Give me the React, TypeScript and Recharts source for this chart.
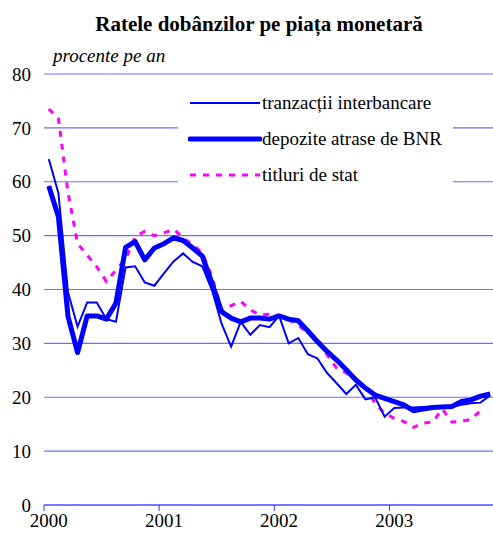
import React from "react";
import { LineChart, Line, XAxis, YAxis, CartesianGrid, Legend } from "recharts";

// monthly, Jan 2000 - Nov 2003
const years = ["2000", "2001", "2002", "2003"];
const yTicks = [0, 10, 20, 30, 40, 50, 60, 70, 80];

const interbancare = [
  64.2, 57.9, 39.5, 33.1, 37.6, 37.6, 34.5, 34.0, 44.1, 44.3, 41.3, 40.7,
  43.0, 45.2, 46.7, 45.1, 44.3, 39.9, 33.7, 29.4, 34.0, 31.6, 33.4, 33.0,
  35.1, 30.0, 31.0, 28.0, 27.2, 24.5, 22.6, 20.6, 22.3, 19.6, 20.0, 16.4,
  18.0, 18.1, 18.1, 18.2, 18.3, 18.3, 18.2, 18.6, 18.9, 19.0, 20.4,
];
const depoziteBNR = [
  59.2, 53.5, 35.0, 28.3, 35.1, 35.1, 34.5, 37.5, 47.8, 48.9, 45.5, 47.7,
  48.5, 49.6, 49.1, 47.7, 46.2, 41.2, 35.9, 34.7, 34.0, 34.7, 34.7, 34.5,
  35.1, 34.5, 34.2, 32.3, 30.3, 28.5, 26.9, 25.1, 23.2, 21.7, 20.4, 19.8,
  19.2, 18.6, 17.5, 17.8, 18.1, 18.2, 18.3, 19.2, 19.5, 20.2, 20.6,
];
const titluriStat = [
  73.5, 71.8, 58.0, 48.5, 46.4, 44.2, 41.5, 43.6, 45.6, 49.8, 50.8, 50.0,
  50.5, 51.2, 49.6, 48.3, 46.8, 42.4, 36.2, 37.0, 37.8, 36.2, 35.3, 35.4,
  35.2, 34.4, 33.4, 31.9, 31.0, 27.9, 25.4, 24.5, 23.5, 21.7, 18.9, 17.0,
  16.1, 15.5, 14.4, 15.2, 15.4, 17.8, 15.4, 15.5, 15.9, 17.5, null,
];

const data = interbancare.map((v, i) => ({
  m: i + 0.5,
  tranz: v,
  depo: depoziteBNR[i],
  titluri: titluriStat[i],
}));

const serif = "'Liberation Serif', 'Times New Roman', serif";

function YearTick(props: any) {
  const { x, y, payload } = props;
  const label = years[Math.round(payload.value / 12)];
  return (
    <text
      x={x + 4.8}
      y={y + 14}
      textAnchor="middle"
      fontFamily={serif}
      fontSize={19}
      fill="#000"
    >
      {label}
    </text>
  );
}

function LegendBox() {
  const items = [
    { name: "tranzacții interbancare", w: 2, dash: undefined, color: "#0000ff" },
    { name: "depozite atrase de BNR", w: 5, dash: undefined, color: "#0000ff" },
    { name: "titluri de stat", w: 3, dash: "6 7", color: "#ff00ff" },
  ];
  return (
    <div style={{ background: "#fff", width: 275, height: 105, position: "relative" }}>
      {items.map((it, k) => (
        <div
          key={it.name}
          style={{
            position: "absolute",
            left: 10,
            top: 8 + k * 36,
            display: "flex",
            alignItems: "center",
            fontFamily: serif,
            fontSize: 19,
            color: "#000",
            whiteSpace: "nowrap",
          }}
        >
          <svg width={74} height={20}>
            <line
              x1={2}
              x2={72}
              y1={10}
              y2={10}
              stroke={it.color}
              strokeWidth={it.w}
              strokeDasharray={it.dash}
              strokeLinecap={it.w > 3 ? "round" : "butt"}
            />
          </svg>
          <span>{it.name}</span>
        </div>
      ))}
    </div>
  );
}

export default function App() {
  return (
    <div
      style={{
        position: "absolute",
        left: 0,
        top: 0,
        width: 493,
        height: 538,
        overflow: "hidden",
        background: "#fff",
      }}
    >
      <div
        style={{
          position: "absolute",
          left: 0,
          width: 518,
          top: 14,
          textAlign: "center",
          fontFamily: serif,
          fontWeight: "bold",
          fontSize: 21,
          lineHeight: "21px",
        }}
      >
        Ratele dobânzilor pe piața monetară
      </div>
      <div
        style={{
          position: "absolute",
          left: 53,
          top: 46,
          fontFamily: serif,
          fontStyle: "italic",
          fontSize: 19,
          lineHeight: "19px",
          zIndex: 2,
        }}
      >
        procente pe an
      </div>
      <LineChart
        width={500}
        height={538}
        data={data}
        margin={{ top: 74, right: 5, bottom: 3, left: 0 }}
      >
        <CartesianGrid vertical={false} stroke="#6e6eff" strokeWidth={1.2} />
        <XAxis
          dataKey="m"
          type="number"
          domain={[0, 47]}
          ticks={[0, 12, 24, 36]}
          height={30}
          stroke="#3a3aff"
          tickSize={6}
          tick={<YearTick />}
          allowDataOverflow
        />
        <YAxis
          domain={[0, 80]}
          ticks={yTicks}
          width={44}
          axisLine={false}
          tickLine={false}
          tickSize={0}
          tickMargin={13}
          tick={{ fontFamily: serif, fontSize: 19, fill: "#000" }}
        />
        <Legend
          content={<LegendBox />}
          layout="vertical"
          verticalAlign="middle"
          align="center"
          wrapperStyle={{ left: 178, top: 84, width: 275, height: 105 }}
        />
        <Line
          dataKey="titluri"
          name="titluri de stat"
          stroke="#ff00ff"
          strokeWidth={3}
          strokeDasharray="6 7"
          dot={false}
          isAnimationActive={false}
        />
        <Line
          dataKey="tranz"
          name="tranzacții interbancare"
          stroke="#0000ff"
          strokeWidth={2}
          dot={false}
          isAnimationActive={false}
        />
        <Line
          dataKey="depo"
          name="depozite atrase de BNR"
          stroke="#0000ff"
          strokeWidth={5}
          strokeLinejoin="round"
          dot={false}
          isAnimationActive={false}
        />
      </LineChart>
    </div>
  );
}
